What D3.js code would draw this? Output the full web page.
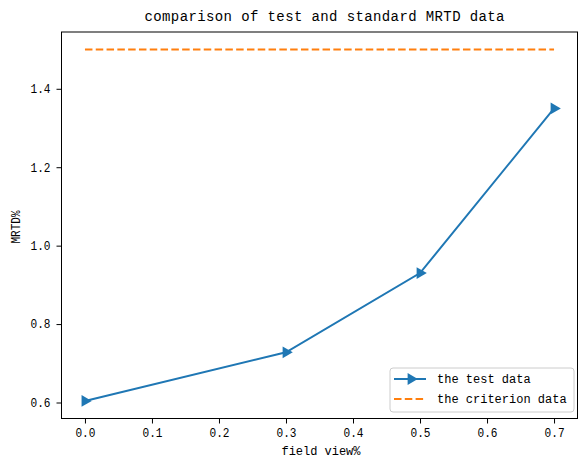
<!DOCTYPE html>
<html>
<head>
<meta charset="utf-8">
<script src="https://cdn.jsdelivr.net/npm/d3@7"></script>
<style>
  body { margin: 0; background: #fff; }
  text { font-family: "Liberation Mono", "DejaVu Sans Mono", monospace; fill: #000; }
</style>
</head>
<body>
<div id="chart"></div>
<script>
// data
var fieldView = [0.0, 0.3, 0.5, 0.7];
var testData = [0.604, 0.728, 0.93, 1.35];
var criterionValue = 1.5;
var xTicks = [0.0, 0.1, 0.2, 0.3, 0.4, 0.5, 0.6, 0.7];
var yTicks = [0.6, 0.8, 1.0, 1.2, 1.4];

var svgWidth = 581;
var svgHeight = 459;
var margin = { top: 32, right: 3.5, bottom: 40.5, left: 61.5 };
var width = svgWidth - margin.left - margin.right;
var height = svgHeight - margin.top - margin.bottom;

var svg = d3.select("#chart")
  .append("svg")
  .attr("width", svgWidth)
  .attr("height", svgHeight);

var g = svg.append("g")
  .attr("transform", `translate(${margin.left}, ${margin.top})`);

// matplotlib-like 5% margins
var xMin = 0, xMax = 0.7;
var xPad = (xMax - xMin) * 0.05;
var x = d3.scaleLinear().domain([xMin - xPad, xMax + xPad]).range([0, width]);

var yMin = d3.min(testData), yMax = criterionValue;
var yPad = (yMax - yMin) * 0.05;
var y = d3.scaleLinear().domain([yMin - yPad, yMax + yPad]).range([height, 0]);

// axes
var xAxis = g.append("g")
  .attr("transform", `translate(0, ${height})`)
  .call(d3.axisBottom(x).tickValues(xTicks).tickFormat(d3.format(".1f")).tickSize(5).tickPadding(5));
var yAxis = g.append("g")
  .call(d3.axisLeft(y).tickValues(yTicks).tickFormat(d3.format(".1f")).tickSize(5).tickPadding(6));

[xAxis, yAxis].forEach(function(ax) {
  ax.select(".domain").remove();
  ax.selectAll("line").attr("stroke", "#000").attr("stroke-width", 1);
  ax.selectAll("text")
    .attr("font-size", "12px")
    .attr("font-family", "'Liberation Mono', monospace")
    .attr("textLength", 20)
    .attr("lengthAdjust", "spacingAndGlyphs");
});

// frame
g.append("rect")
  .attr("width", width)
  .attr("height", height)
  .attr("fill", "none")
  .attr("stroke", "#000")
  .attr("stroke-width", 1);

// criterion line
g.append("line")
  .attr("x1", x(fieldView[0]))
  .attr("x2", x(fieldView[fieldView.length - 1]))
  .attr("y1", y(criterionValue))
  .attr("y2", y(criterionValue))
  .attr("stroke", "#ff7f0e")
  .attr("stroke-width", 2)
  .attr("stroke-dasharray", "7.5,3.3");

// test line
var line = d3.line()
  .x(function(d, i) { return x(fieldView[i]); })
  .y(function(d) { return y(d); });

g.append("path")
  .datum(testData)
  .attr("d", line)
  .attr("fill", "none")
  .attr("stroke", "#1f77b4")
  .attr("stroke-width", 2);

var tri = d3.symbol().type(d3.symbolTriangle).size(60);
g.selectAll(".marker")
  .data(testData)
  .enter()
  .append("path")
  .attr("class", "marker")
  .attr("d", tri)
  .attr("transform", function(d, i) { return `translate(${x(fieldView[i])}, ${y(d)}) rotate(90)`; })
  .attr("fill", "#1f77b4");

// title and labels
svg.append("text")
  .attr("x", margin.left + width / 2 + 5)
  .attr("y", 21)
  .attr("text-anchor", "middle")
  .attr("font-size", "14px")
  .attr("textLength", 360)
  .text("comparison of test and standard MRTD data");

svg.append("text")
  .attr("x", 321)
  .attr("y", 455)
  .attr("text-anchor", "middle")
  .attr("font-size", "12px")
  .attr("textLength", 79)
  .text("field view%");

svg.append("text")
  .attr("transform", "translate(20, 227) rotate(-90)")
  .attr("text-anchor", "middle")
  .attr("font-size", "12px")
  .attr("font-family", "'Liberation Sans Narrow', 'Liberation Sans', sans-serif")
  .attr("textLength", 33)
  .attr("lengthAdjust", "spacingAndGlyphs")
  .text("MRTD%");

// legend
var legend = svg.append("g").attr("transform", "translate(390, 368)");
legend.append("rect")
  .attr("width", 184)
  .attr("height", 44)
  .attr("rx", 3)
  .attr("fill", "#fff")
  .attr("fill-opacity", 0.8)
  .attr("stroke", "#ccc")
  .attr("stroke-width", 1);

legend.append("line")
  .attr("x1", 4).attr("x2", 36).attr("y1", 11).attr("y2", 11)
  .attr("stroke", "#1f77b4").attr("stroke-width", 2);
legend.append("path")
  .attr("d", tri)
  .attr("transform", "translate(21, 11) rotate(90)")
  .attr("fill", "#1f77b4");
legend.append("line")
  .attr("x1", 4).attr("x2", 36).attr("y1", 31).attr("y2", 31)
  .attr("stroke", "#ff7f0e").attr("stroke-width", 2)
  .attr("stroke-dasharray", "7.5,3.3");

var legendNames = ["the test data", "the criterion data"];
legend.selectAll(".lbl")
  .data(legendNames)
  .enter()
  .append("text")
  .attr("x", 47)
  .attr("y", function(d, i) { return 15 + i * 20; })
  .attr("font-size", "12px")
  .attr("textLength", function(d) { return d.length * 7.2; })
  .text(function(d) { return d; });
</script>
</body>
</html>
